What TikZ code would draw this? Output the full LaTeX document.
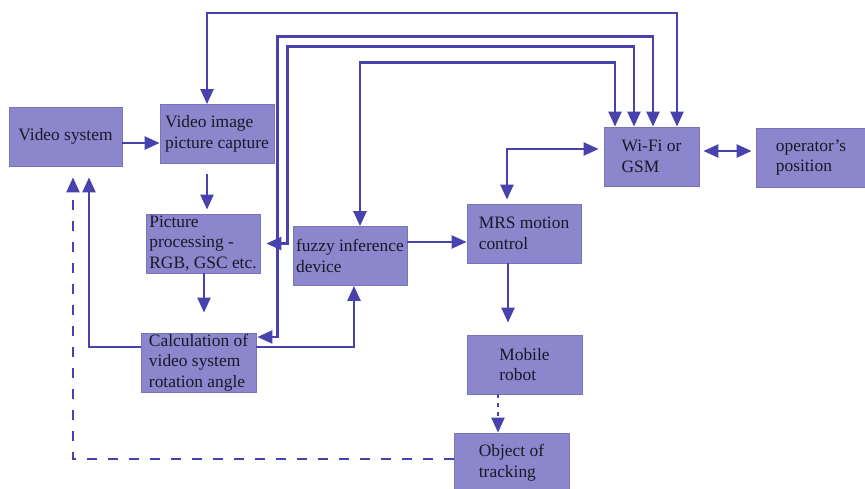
\documentclass[tikz,border=0pt]{standalone}
\usepackage{fontspec}
\setmainfont{Liberation Serif}
\usetikzlibrary{arrows.meta}
\definecolor{boxfill}{RGB}{140,134,204}
\definecolor{boxline}{RGB}{122,116,188}
\definecolor{wire}{RGB}{72,66,172}
\definecolor{ink}{RGB}{26,24,38}
\begin{document}
\begin{tikzpicture}[x=1pt,y=-1pt,
  blk/.style={draw=boxline,line width=0.8pt,fill=boxfill,text=ink,align=left,
    inner sep=1pt,minimum width=#1,minimum height=59pt,
    font=\fontsize{17.4}{20.5}\selectfont},
  link/.style={draw=wire,line width=2.3pt,
    arrows={-Triangle[length=15pt,width=13pt]}},
  both/.style={link,arrows={Triangle[length=15pt,width=13pt]-Triangle[length=15pt,width=13pt]}},
  dashline/.style={link,dash pattern=on 10pt off 11pt},
  dotline/.style={link,dash pattern=on 4pt off 5pt}]
\useasboundingbox (0,0) rectangle (865,489);

% blocks
\node[blk=113pt] (vs)    at (65.5,136.5) {Video system};
\node[blk=114pt] (cap)   at (217,134)    {Video image\\picture capture};
\node[blk=114pt] (proc)  at (203,243.5)  {Picture\\processing -\\RGB, GSC etc.};
\node[blk=115pt] (calc)  at (198.5,362.5){Calculation of\\video system\\rotation angle};
\node[blk=114pt] (fuzzy) at (350,256)    {fuzzy inference\\device};
\node[blk=114pt] (mrs)   at (524,233.5)  {MRS motion\\control};
\node[blk=95pt]  (wifi)  at (651.5,156.5){Wi-Fi or\\GSM};
\node[blk=110pt] (oper)  at (811,157.5)  {operator's\\position};
\node[blk=115pt] (robot) at (524.5,364.5){Mobile\\robot};
\node[blk=115pt] (obj)   at (511.5,462.5){Object of\\tracking};

% links to and from the wireless unit
\draw[both] ([xshift=-10pt]cap.north) -- ++(0,-91) -| ([xshift=25.5pt]wifi.north);
\draw[both,shorten >=1pt] ([xshift=1.5pt]wifi.north) -- ++(0,-90)
  -| ([xshift=21pt,yshift=25.5pt]calc.east) -- ([yshift=25.5pt]calc.east);
\draw[both,shorten >=6pt] ([xshift=-17.5pt]wifi.north) -- ++(0,-80)
  -| ([xshift=27pt]proc.east) -- (proc.east);
\draw[both] ([xshift=-36.5pt]wifi.north) -- ++(0,-64) -| ([xshift=10pt]fuzzy.north);
\draw[both,shorten <=4pt,shorten >=5pt] ([xshift=-17pt]mrs.north) |- ([yshift=7.5pt]wifi.west);
\draw[both,shorten <=4pt,shorten >=4pt] ([yshift=5.5pt]wifi.east) -- ([yshift=6.5pt]oper.west);

% processing chain
\draw[link] ([yshift=-6.5pt]vs.east) -- ([yshift=-9pt]cap.west);
\draw[link,shorten <=10pt,shorten >=4pt] ([xshift=-10pt]cap.south) -- ([xshift=4pt]proc.north);
\draw[link,shorten >=20pt] ([xshift=1pt]proc.south) -- ([xshift=5.5pt]calc.north);
\draw[link,shorten >=11pt] ([yshift=15.5pt]calc.west) -| ([xshift=23.5pt]vs.south);
\draw[link] ([yshift=15.5pt]calc.east) -| ([xshift=4pt]fuzzy.south);
\draw[link] ([yshift=14pt]fuzzy.east) -- ([yshift=-8.5pt]mrs.west);
\draw[link,shorten >=12pt] ([xshift=-16pt]mrs.south) -- ([xshift=-16.5pt]robot.north);
\draw[dotline] ([xshift=-26.5pt]robot.south) -- ([xshift=-13.5pt]obj.north);
\draw[dashline,shorten >=11pt] ([yshift=3.5pt]obj.west) -| ([xshift=7.5pt]vs.south);
\end{tikzpicture}
\end{document}
